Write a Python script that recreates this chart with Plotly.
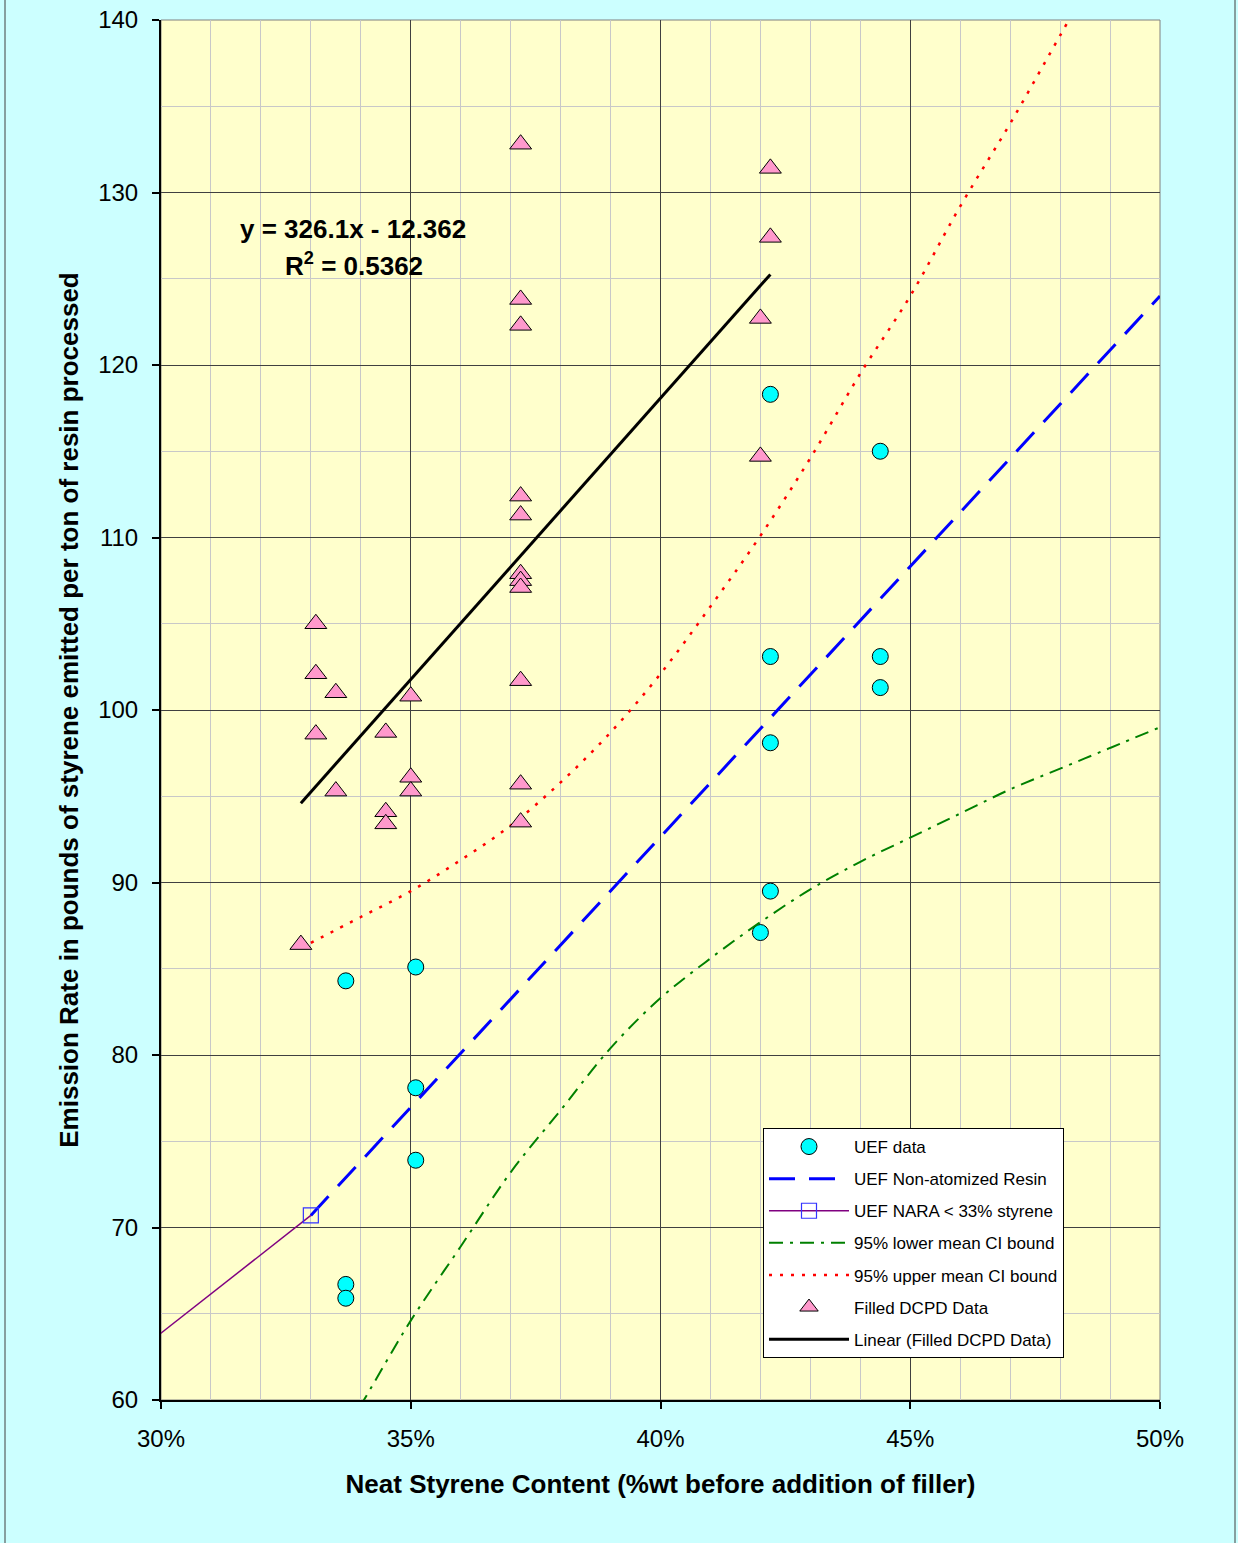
import plotly.graph_objects as go

# ---------------- data ----------------
uef_x = [0.337, 0.337, 0.337, 0.351, 0.351, 0.351, 0.422, 0.422, 0.422, 0.422, 0.420, 0.444, 0.444, 0.444]
uef_y = [84.3, 66.7, 65.9, 85.1, 78.1, 73.9, 118.3, 103.1, 98.1, 89.5, 87.1, 115.0, 103.1, 101.3]

nar_x = [0.33, 0.50]
nar_y = [70.7, 124.0]

nara_x = [0.29, 0.33]
nara_y = [61.6, 70.7]

lower_x = [0.33, 0.34, 0.35, 0.36, 0.37, 0.38, 0.39, 0.40, 0.41, 0.42, 0.43, 0.44, 0.45, 0.46, 0.47, 0.48, 0.49, 0.50]
lower_y = [55.0, 59.7, 64.6, 68.9, 73.2, 76.8, 80.4, 83.3, 85.6, 87.7, 89.6, 91.2, 92.6, 94.0, 95.4, 96.6, 97.8, 99.0]

upper_x = [0.33, 0.34, 0.35, 0.36, 0.37, 0.38, 0.39, 0.40, 0.41, 0.42, 0.43, 0.44, 0.45, 0.46, 0.47, 0.48, 0.49]
upper_y = [86.5, 88.0, 89.5, 91.3, 93.3, 95.8, 98.7, 102.1, 106.0, 110.1, 114.6, 119.5, 124.0, 129.2, 134.0, 139.1, 144.2]

dcpd_x = [0.328, 0.331, 0.331, 0.331, 0.335, 0.335, 0.345, 0.345, 0.345, 0.350, 0.350, 0.350,
          0.372, 0.372, 0.372, 0.372, 0.372, 0.372, 0.372, 0.372, 0.372, 0.372, 0.372,
          0.422, 0.422, 0.420, 0.420]
dcpd_y = [86.4, 105.0, 102.1, 98.6, 101.0, 95.3, 98.7, 94.1, 93.4, 100.8, 96.1, 95.3,
          132.8, 123.8, 122.3, 112.4, 111.3, 107.9, 107.5, 107.1, 101.7, 95.7, 93.5,
          131.4, 127.4, 122.7, 114.7]

trend_slope = 326.1
trend_intercept = -12.362
trend_r2 = 0.5362

x_ticks = [0.30, 0.35, 0.40, 0.45, 0.50]
y_ticks = [60, 70, 80, 90, 100, 110, 120, 130, 140]

# ---------------- figure ----------------
trend_x = [min(dcpd_x), max(dcpd_x)]
trend_y = [trend_slope * v + trend_intercept for v in trend_x]

FONT = "Arial, Liberation Sans, sans-serif"

fig = go.Figure()

fig.add_trace(go.Scatter(
    x=uef_x, y=uef_y, mode="markers", name="UEF data", legendgroup="g1",
    marker=dict(symbol="circle", size=16, color="#00FFFF", line=dict(color="black", width=1))))

fig.add_trace(go.Scatter(
    x=nar_x, y=nar_y, mode="lines", name="UEF Non-atomized Resin", legendgroup="g2",
    line=dict(color="#0000FF", width=3, dash="26px,14px")))

fig.add_trace(go.Scatter(
    x=nara_x, y=nara_y, mode="lines+markers", name="UEF NARA < 33% styrene", legendgroup="g3",
    line=dict(color="#800080", width=1.5),
    marker=dict(symbol="square-open", size=15, color="#3333FF", line=dict(color="#3333FF", width=1.2))))

fig.add_trace(go.Scatter(
    x=lower_x, y=lower_y, mode="lines", name="95% lower mean CI bound", legendgroup="g4",
    line=dict(color="#008000", width=2, dash="14px,7px,3px,7px"), line_shape="spline"))

fig.add_trace(go.Scatter(
    x=upper_x, y=upper_y, mode="lines", name="95% upper mean CI bound", legendgroup="g5",
    line=dict(color="#FF0000", width=2.5, dash="3px,8px"), line_shape="spline"))

fig.add_trace(go.Scatter(
    x=dcpd_x, y=dcpd_y, mode="markers", name="Filled DCPD Data", legendgroup="g6",
    marker=dict(symbol="triangle-up", size=19, color="#FF99CC", line=dict(color="black", width=1))))

fig.add_trace(go.Scatter(
    x=trend_x, y=trend_y, mode="lines", name="Linear (Filled DCPD Data)", legendgroup="g7",
    line=dict(color="black", width=3)))

fig.add_annotation(
    x=0.192, y=0.8486, xref="paper", yref="paper", showarrow=False,
    xanchor="center", yanchor="middle",
    text="<b>y = %.1fx - %.3f</b>" % (trend_slope, -trend_intercept),
    font=dict(family=FONT, size=26, color="black"))
fig.add_annotation(
    x=0.193, y=0.8225, xref="paper", yref="paper", showarrow=False,
    xanchor="center", yanchor="middle",
    text="<b>R<sup>2</sup> = %.4f</b>" % trend_r2,
    font=dict(family=FONT, size=26, color="black"))

# outer chart border (left/right)
L, R, T, B = 161, 78, 20, 143
W, H = 1238, 1543
pw, ph = W - L - R, H - T - B
def px2paper_x(px):
    return (px - L) / pw
def py2paper_y(py):
    return (H - B - py) / ph
fig.add_shape(type="line", xref="paper", yref="paper",
              x0=px2paper_x(5), x1=px2paper_x(5), y0=py2paper_y(0), y1=py2paper_y(1543),
              line=dict(color="#404040", width=1))
fig.add_shape(type="line", xref="paper", yref="paper",
              x0=px2paper_x(1235), x1=px2paper_x(1235), y0=py2paper_y(0), y1=py2paper_y(1543),
              line=dict(color="#404040", width=1))
fig.add_shape(type="rect", xref="paper", yref="paper", x0=0, x1=1, y0=0, y1=1,
              line=dict(color="#808080", width=1), layer="below")

fig.update_layout(
    width=W, height=H,
    margin=dict(l=L, r=R, t=T, b=B, autoexpand=False),
    paper_bgcolor="#CCFFFF",
    plot_bgcolor="#FFFFCC",
    font=dict(family=FONT, color="black"),
    legend=dict(
        x=px2paper_x(763), y=py2paper_y(1128), xanchor="left", yanchor="top",
        bgcolor="white", bordercolor="black", borderwidth=1,
        font=dict(size=17, family=FONT, color="black"),
        tracegroupgap=7, itemwidth=80, traceorder="grouped"),
    xaxis=dict(
        range=[0.30, 0.50], tickvals=x_ticks, tickformat=".0%", automargin=False,
        showline=True, linecolor="black", linewidth=2,
        ticks="outside", ticklen=7, tickwidth=2, tickcolor="black",
        ticklabelstandoff=9,
        tickfont=dict(size=24), showgrid=True, gridcolor="#404040", gridwidth=1,
        minor=dict(dtick=0.01, showgrid=True, gridcolor="#C8C8C8", gridwidth=1, ticks=""),
        zeroline=False,
        title=dict(text="<b>Neat Styrene Content (%wt before addition of filler)</b>",
                   font=dict(size=26), standoff=24)),
    yaxis=dict(
        range=[60, 140], tickvals=y_ticks, automargin=False,
        showline=True, linecolor="black", linewidth=2,
        ticks="outside", ticklen=7, tickwidth=2, tickcolor="black",
        ticklabelstandoff=9,
        tickfont=dict(size=24), showgrid=True, gridcolor="#404040", gridwidth=1,
        minor=dict(dtick=5, showgrid=True, gridcolor="#C8C8C8", gridwidth=1, ticks=""),
        zeroline=False,
        title=dict(text="<b>Emission Rate in pounds of styrene emitted per ton of resin processed</b>",
                   font=dict(size=26), standoff=12)),
)

fig.write_html("out.html", config={"displayModeBar": False},
               post_script="document.body.style.margin='0';document.body.style.overflow='hidden';")
